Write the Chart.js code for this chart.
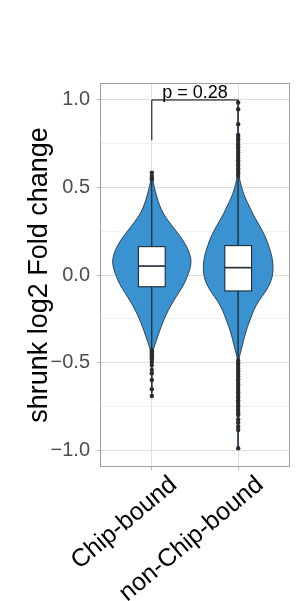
<!DOCTYPE html>
<html>
<head>
<meta charset="utf-8">
<script src="https://cdn.jsdelivr.net/npm/chart.js@4.4.0/dist/chart.umd.min.js"></script>
<style>
  html, body { margin: 0; padding: 0; background: #fff; }
  #wrap { width: 306px; height: 601px; }
</style>
</head>
<body>
<div id="wrap"><canvas id="violinChart" width="306" height="601"></canvas></div>
<script>
const groups = ['Chip-bound', 'non-Chip-bound'];
const yTicks = [-1, -0.75, -0.5, -0.25, 0, 0.25, 0.5, 0.75, 1];
const yMajor = [-1, -0.5, 0, 0.5, 1];
const pLabel = 'p = 0.28';

// violin outline: value and half width (x units)
const chipDensY = [0.585, 0.55, 0.5, 0.45, 0.4, 0.35, 0.3, 0.25, 0.2, 0.15, 0.1, 0.07, 0.03, 0, -0.05, -0.1, -0.15, -0.2, -0.25, -0.3, -0.35, -0.4, -0.44, -0.5, -0.69];
const chipDensW = [0.003, 0.009, 0.029, 0.056, 0.087, 0.133, 0.203, 0.284, 0.359, 0.417, 0.451, 0.455, 0.44, 0.417, 0.376, 0.313, 0.249, 0.191, 0.145, 0.104, 0.069, 0.035, 0.009, 0.006, 0.003];
const nonDensY = [0.985, 0.6, 0.56, 0.52, 0.48, 0.44, 0.4, 0.35, 0.3, 0.25, 0.2, 0.15, 0.1, 0.05, 0, -0.05, -0.1, -0.15, -0.2, -0.25, -0.3, -0.35, -0.4, -0.45, -0.48, -0.55, -0.99];
const nonDensW = [0.003, 0.006, 0.012, 0.029, 0.052, 0.081, 0.122, 0.168, 0.226, 0.284, 0.33, 0.365, 0.394, 0.405, 0.4, 0.37, 0.31, 0.235, 0.18, 0.143, 0.104, 0.075, 0.049, 0.023, 0.009, 0.005, 0.003];

// box stats: lower whisker, q1, median, q3, upper whisker
const chipBox = [-0.42, -0.067, 0.051, 0.162, 0.53];
const nonBox = [-0.48, -0.091, 0.042, 0.168, 0.56];

// outliers
const chipOut = [0.585, 0.566, 0.554, 0.545, -0.429, -0.438, -0.448, -0.458, -0.47, -0.48, -0.495, -0.514, -0.543, -0.562, -0.6, -0.653, -0.691];
const nonOut = [0.985, 0.947, 0.861, 0.8, 0.79, 0.775, 0.76, 0.745, 0.73, 0.715, 0.7, 0.685, 0.67, 0.655, 0.64, 0.625, 0.61, 0.595, 0.58, 0.565,
  -0.49, -0.505, -0.52, -0.535, -0.55, -0.565, -0.58, -0.595, -0.61, -0.625, -0.64, -0.655, -0.67, -0.685, -0.7, -0.715, -0.73, -0.745, -0.76, -0.775, -0.79, -0.8,
  -0.825, -0.844, -0.867, -0.886, -0.99];

// significance bracket
const bracketX = [1, 1, 2, 2];
const bracketY = [0.77, 1.0, 1.0, 0.985];

const densY = [chipDensY, nonDensY];
const densW = [chipDensW, nonDensW];
const boxes = [chipBox, nonBox];
const boxHalf = 0.155;

const violinFill = '#3a93d0';
const violinLine = '#22364b';

function smoothPath(ctx, pts) {
  ctx.moveTo(pts[0][0], pts[0][1]);
  for (let k = 1; k < pts.length - 1; k++) {
    const mx = (pts[k][0] + pts[k + 1][0]) / 2;
    const my = (pts[k][1] + pts[k + 1][1]) / 2;
    ctx.quadraticCurveTo(pts[k][0], pts[k][1], mx, my);
  }
  const last = pts[pts.length - 1];
  ctx.lineTo(last[0], last[1]);
}

const violinPlugin = {
  id: 'violins',
  beforeDatasetsDraw(chart) {
    const { ctx, scales: { x, y } } = chart;
    ctx.save();
    groups.forEach((g, i) => {
      const pos = i + 1;
      const dy = densY[i], dw = densW[i];
      const right = dy.map((v, k) => [x.getPixelForValue(pos + dw[k]), y.getPixelForValue(v)]);
      const left = dy.map((v, k) => [x.getPixelForValue(pos - dw[k]), y.getPixelForValue(v)]).reverse();
      ctx.beginPath();
      smoothPath(ctx, right);
      const l0 = left[0];
      ctx.lineTo(l0[0], l0[1]);
      smoothPath(ctx, left);
      ctx.closePath();
      ctx.fillStyle = violinFill;
      ctx.fill();
      ctx.lineWidth = 0.9;
      ctx.strokeStyle = violinLine;
      ctx.stroke();

      // whiskers
      const b = boxes[i];
      const cx = x.getPixelForValue(pos);
      ctx.beginPath();
      ctx.moveTo(cx, y.getPixelForValue(b[0]));
      ctx.lineTo(cx, y.getPixelForValue(b[1]));
      ctx.moveTo(cx, y.getPixelForValue(b[3]));
      ctx.lineTo(cx, y.getPixelForValue(b[4]));
      ctx.lineWidth = 1;
      ctx.strokeStyle = '#1e2a36';
      ctx.stroke();

      // box
      const x0 = x.getPixelForValue(pos - boxHalf);
      const x1 = x.getPixelForValue(pos + boxHalf);
      const yq1 = y.getPixelForValue(b[1]);
      const yq3 = y.getPixelForValue(b[3]);
      ctx.fillStyle = '#ffffff';
      ctx.fillRect(x0, yq3, x1 - x0, yq1 - yq3);
      ctx.lineWidth = 1.1;
      ctx.strokeStyle = '#1e2a36';
      ctx.strokeRect(x0, yq3, x1 - x0, yq1 - yq3);
      const ym = y.getPixelForValue(b[2]);
      ctx.beginPath();
      ctx.moveTo(x0, ym);
      ctx.lineTo(x1, ym);
      ctx.lineWidth = 1.6;
      ctx.stroke();
    });
    ctx.restore();
  },
  afterDraw(chart) {
    const { ctx, chartArea: a, scales: { x, y } } = chart;
    ctx.save();
    ctx.strokeStyle = '#a0a0a0';
    ctx.lineWidth = 1;
    ctx.strokeRect(Math.round(a.left) + 0.5, Math.round(a.top) + 0.5, Math.round(a.right - a.left) - 1, Math.round(a.bottom - a.top) - 1);
    ctx.fillStyle = '#000';
    ctx.font = "18px 'Liberation Sans', Arial, sans-serif";
    ctx.textAlign = 'center';
    ctx.textBaseline = 'alphabetic';
    ctx.fillText(pLabel, x.getPixelForValue(1.5), y.getPixelForValue(1.0) - 2);
    ctx.restore();
  }
};

Chart.defaults.font.family = "'Liberation Sans', Arial, sans-serif";

const fmt = v => v.toFixed(1).replace('-', '\u2212');

new Chart(document.getElementById('violinChart'), {
  type: 'scatter',
  data: {
    datasets: [
      {
        label: groups[0],
        data: chipOut.map(v => ({ x: 1, y: v })),
        pointRadius: 2.2,
        pointBackgroundColor: '#2b2b2b',
        pointBorderWidth: 0
      },
      {
        label: groups[1],
        data: nonOut.map(v => ({ x: 2, y: v })),
        pointRadius: 2.2,
        pointBackgroundColor: '#2b2b2b',
        pointBorderWidth: 0
      },
      {
        label: 'bracket',
        data: bracketX.map((v, k) => ({ x: v, y: bracketY[k] })),
        showLine: true,
        borderColor: '#000000',
        borderWidth: 1,
        pointRadius: 0
      }
    ]
  },
  options: {
    responsive: false,
    animation: false,
    events: [],
    layout: { padding: { top: 83, right: 16, left: 0, bottom: 0 } },
    plugins: { legend: { display: false }, tooltip: { enabled: false } },
    scales: {
      x: {
        type: 'linear',
        min: 0.4,
        max: 2.6,
        afterBuildTicks: s => { s.ticks = groups.map((g, i) => ({ value: i + 1 })); },
        afterFit: s => { s.height = 134; },
        border: { display: false },
        grid: { color: '#dedede', lineWidth: 1, tickLength: 3, tickColor: '#b3b3b3' },
        ticks: {
          autoSkip: false,
          minRotation: 40,
          maxRotation: 40,
          padding: 0,
          labelOffset: 22,
          color: '#000000',
          font: { size: 25 },
          callback: v => groups[Math.round(v) - 1]
        }
      },
      y: {
        min: -1.097,
        max: 1.097,
        afterBuildTicks: s => { s.ticks = yTicks.map(v => ({ value: v })); },
        afterFit: s => { s.width = 100; },
        border: { display: false },
        grid: {
          color: c => yMajor.includes(c.tick.value) ? '#dedede' : '#efefef',
          tickColor: c => yMajor.includes(c.tick.value) ? '#b3b3b3' : 'rgba(0,0,0,0)',
          tickLength: 3
        },
        ticks: {
          padding: 7,
          color: '#4d4d4d',
          font: { size: 20 },
          callback: v => yMajor.includes(v) ? fmt(v) : ''
        },
        title: {
          display: true,
          text: 'shrunk log2 Fold change',
          color: '#000000',
          font: { size: 27 },
          padding: { top: 23, bottom: 0 }
        }
      }
    }
  },
  plugins: [violinPlugin]
});
</script>
</body>
</html>
